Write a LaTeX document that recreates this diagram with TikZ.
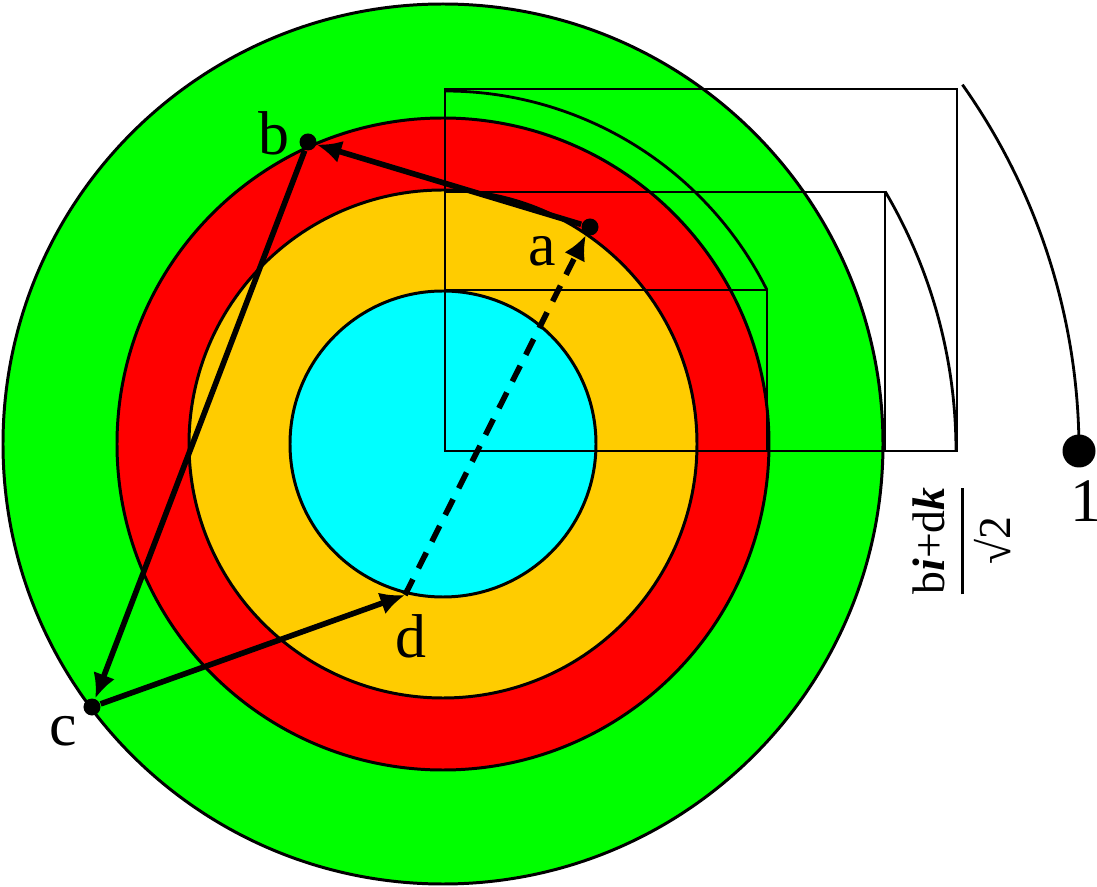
\documentclass[tikz,border=0pt]{standalone}
\usepackage{amsmath}
\usepackage{fontspec}
\setmainfont{Liberation Serif}
\usetikzlibrary{arrows.meta}
\definecolor{verde}{RGB}{0,255,0}
\definecolor{rojo}{RGB}{255,0,0}
\definecolor{naranja}{RGB}{255,204,0}
\definecolor{cian}{RGB}{0,255,255}
\tikzset{>={Latex[length=7pt,width=6.5pt]}}
\tikzset{punto/.style={circle,fill=black,inner sep=0pt,minimum size=0.17cm}}
\tikzset{bola/.style={circle,fill=black,inner sep=0pt,minimum size=0.33cm}}
\tikzset{letra/.style={font=\fontsize{17.6}{20}\selectfont}}
\tikzset{anillo/.style={draw=black,line width=0.85pt}}
\tikzset{marco/.style={line width=0.8pt}}
\tikzset{vector/.style={->,line width=1.6pt}}

\begin{document}
\begin{tikzpicture}
      \useasboundingbox (-4.45,-4.35) rectangle (6.52,4.51);
      \coordinate (O) at (0,0);
      \coordinate (C) at (-0.02,0.07);
      \fill[verde,anillo] (C) circle (4.40);
      \fill[rojo,anillo] (C) circle (3.26);
      \fill[naranja,anillo] (C) circle (2.54);
      \fill[cian,anillo] (C) circle (1.53);
      \draw[marco] (O) rectangle (3.22,1.61);
      \draw[marco] (O) rectangle (4.40,2.59);
      \draw[marco] (O) rectangle (5.12,3.62);
      \draw[marco] (90:3.60) arc (90:26.6:3.60);
      \draw[marco] (30.5:5.11) arc (30.5:0:5.11);
      \draw[marco] (35.3:6.34) arc (35.3:0:6.34);
      \node[bola] (uno) at (6.34,0) {};
      \node[letra] (L1) at (6.41,-0.50) {1};
      \node[punto] (a) at (1.45,2.24) {};
      \node[punto] (b) at (-1.37,3.09) {};
      \node[punto] (c) at (-3.53,-2.56) {};
      \coordinate (d) at (-0.40,-1.44);
      \node[letra] (La) at (0.97,2.00) {a};
      \node[letra] (Lb) at (-1.71,3.18) {b};
      \node[letra] (Lc) at (-3.82,-2.80) {c};
      \node[letra] (Ld) at (-0.34,-1.85) {d};
      \draw[vector] (a) -- (b);
      \draw[vector] (b) -- (c);
      \draw[vector] (c) -- (d);
      \draw[vector,dash pattern=on 5pt off 3.5pt] (d) -- (a);
      \node[rotate=90,font=\fontsize{13}{15}\selectfont] (frac) at (5.17,-0.90) {$\genfrac{}{}{1pt}{0}{\text{b\textbf{\textit{i}}+d\textbf{\textit{k}}}}{\text{√2}}$};
    \end{tikzpicture}
\end{document}
